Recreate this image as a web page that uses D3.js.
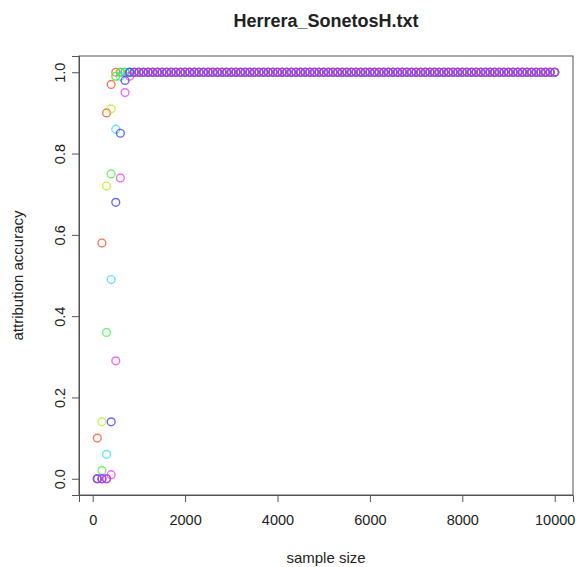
<!DOCTYPE html>
<html><head><meta charset="utf-8">
<script src="https://cdn.jsdelivr.net/npm/d3@7"></script>
<style>body{margin:0;background:#fff}svg{display:block}text{font-family:"Liberation Sans",Arial,sans-serif}</style>
</head><body><svg id="c" width="576" height="567"></svg>
<script>
const title = "Herrera_SonetosH.txt";
const xLabel = "sample size";
const yLabel = "attribution accuracy";
const sampleSizes = d3.range(100, 10001, 100);
const xTicks = [0, 2000, 4000, 6000, 8000, 10000];
const yTicks = [0.0, 0.2, 0.4, 0.6, 0.8, 1.0];
const seriesColors = ["#ff3a1a", "#b4f000", "#3cf03c", "#28d8ff", "#2a2aff", "#f028f0"];
// early values; every later sample size reads as 1.0
const plateau = Array(90).fill(1.0);
const s1 = [0.10, 0.58, 0.90, 0.97, 1.00, 1.00, 1.00, 1.00, 1.00, 1.00].concat(plateau);
const s2 = [0.00, 0.14, 0.72, 0.91, 0.99, 1.00, 1.00, 1.00, 1.00, 1.00].concat(plateau);
const s3 = [0.00, 0.02, 0.36, 0.75, 0.99, 1.00, 1.00, 1.00, 1.00, 1.00].concat(plateau);
const s4 = [0.00, 0.00, 0.06, 0.49, 0.86, 0.99, 1.00, 1.00, 1.00, 1.00].concat(plateau);
const s5 = [0.00, 0.00, 0.00, 0.14, 0.68, 0.85, 0.98, 1.00, 1.00, 1.00].concat(plateau);
const s6 = [0.00, 0.00, 0.00, 0.01, 0.29, 0.74, 0.95, 0.99, 1.00, 1.00].concat(plateau);
const series = [s1, s2, s3, s4, s5, s6];

const svg = d3.select("#c");
const L = 79, R = 573, T = 56, B = 495;
const x = d3.scaleLinear().domain([100 - 0.04*9900, 10000 + 0.04*9900]).range([L, R]);
const y = d3.scaleLinear().domain([-0.04, 1.04]).range([B, T]);

svg.append("text").attr("x", (L+R)/2).attr("y", 27).attr("text-anchor","middle")
  .attr("font-size", 18).attr("font-weight","bold").attr("fill","#222").text(title);

const ax = svg.append("g").attr("transform", `translate(0,${B})`)
  .call(d3.axisBottom(x).tickValues(xTicks).tickFormat(d3.format("d")).tickSizeOuter(0).tickSize(7).tickPadding(13));
const ay = svg.append("g").attr("transform", `translate(${L},0)`)
  .call(d3.axisLeft(y).tickValues(yTicks).tickFormat(d3.format(".1f")).tickSizeOuter(0).tickSize(7).tickPadding(6));
[ax, ay].forEach(g => {
  g.selectAll("path,line").attr("stroke", "#555");
  g.selectAll("text").attr("font-size", 14.5).attr("fill", "#222").attr("font-family", '"Liberation Sans",Arial,sans-serif');
});
ay.selectAll(".tick text").attr("text-anchor","middle").attr("dy", null)
  .attr("transform", "translate(-14,0) rotate(-90)").attr("x", 0).attr("y", 0);

svg.append("rect").attr("x", L).attr("y", T).attr("width", R-L).attr("height", B-T)
  .attr("fill","none").attr("stroke","#555");

svg.append("text").attr("x", (L+R)/2).attr("y", 563).attr("text-anchor","middle")
  .attr("font-size", 15).attr("fill","#222").text(xLabel);
svg.append("text").attr("transform", `translate(23,${(T+B)/2}) rotate(-90)`).attr("text-anchor","middle")
  .attr("font-size", 15).attr("fill","#222").text(yLabel);

series.forEach((vals, i) => {
  svg.append("g").selectAll("circle").data(vals).join("circle")
    .attr("cx", (d, j) => x(sampleSizes[j]))
    .attr("cy", d => y(d))
    .attr("r", 3.9)
    .attr("fill", "none")
    .attr("stroke", seriesColors[i])
    .attr("stroke-opacity", 0.7)
    .attr("stroke-width", 1.4);
});
</script></body></html>
